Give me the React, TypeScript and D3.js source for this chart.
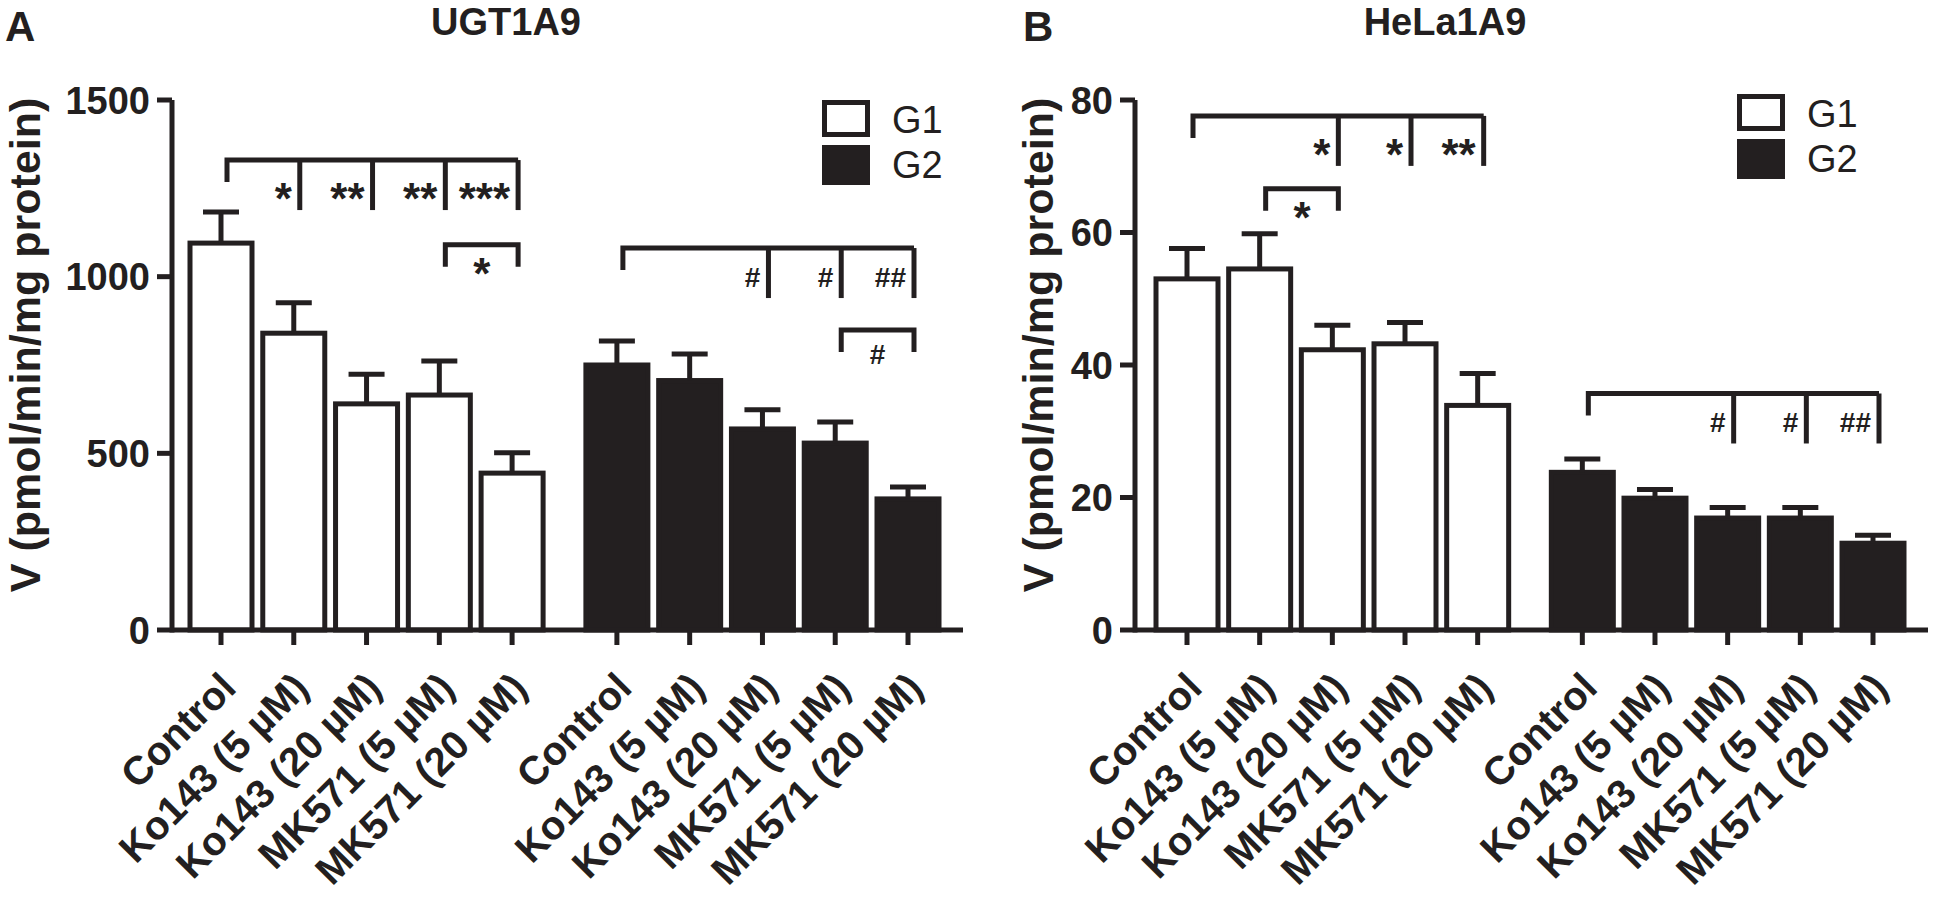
import { scaleLinear } from 'd3'

const categories = ['Control', 'Ko143 (5 µM)', 'Ko143 (20 µM)', 'MK571 (5 µM)', 'MK571 (20 µM)']
const seriesNames = ['G1', 'G2']

// panel A: UGT1A9
const ugtG1 = [1095, 840, 640, 665, 444]
const ugtG1Err = [88, 86, 84, 96, 58]
const ugtG2 = [750, 706, 569, 529, 371]
const ugtG2Err = [68, 75, 54, 60, 34]
const ugtTicks = [0, 500, 1000, 1500]

// panel B: HeLa1A9
const helaG1 = [53.0, 54.5, 42.3, 43.2, 33.9]
const helaG1Err = [4.6, 5.3, 3.7, 3.2, 4.8]
const helaG2 = [23.8, 19.9, 16.9, 16.9, 13.1]
const helaG2Err = [2.0, 1.3, 1.6, 1.6, 1.2]
const helaTicks = [0, 20, 40, 60, 80]

// significance brackets: group, reference bar, compared bars, labels, height in data units
const ugtMarks = [
  { group: 0, from: 0, to: [1, 2, 3, 4], labels: ['*', '**', '**', '***'], at: 1330 },
  { group: 0, from: 3, to: [4], labels: ['*'], at: 1090, small: true },
  { group: 1, from: 0, to: [2, 3, 4], labels: ['#', '#', '##'], at: 1081 },
  { group: 1, from: 3, to: [4], labels: ['#'], at: 849, small: true },
]
const helaMarks = [
  { group: 0, from: 0, to: [2, 3, 4], labels: ['*', '*', '**'], at: 77.6 },
  { group: 0, from: 1, to: [2], labels: ['*'], at: 66.6, small: true },
  { group: 1, from: 0, to: [2, 3, 4], labels: ['#', '#', '##'], at: 35.7 },
]

const INK = '#231f20'
const FONT = '"Liberation Sans", Arial, Helvetica, sans-serif'
const SW = 5
const Y0 = 630
const YTOP = 100
const GROUP_STEP = 5.44
const BAR_W = 62
const CAP = 18

type Mark = { group: number; from: number; to: number[]; labels: string[]; at: number; small?: boolean }

interface PanelProps {
  letter: string
  letterX: number
  title: string
  titleX: number
  axisX: number
  axisEnd: number
  firstX: number
  lastX: number
  yMax: number
  ticks: number[]
  g1: number[]
  g1Err: number[]
  g2: number[]
  g2Err: number[]
  marks: Mark[]
  legendX: number
  legendY: number
  yTitleX: number
}

function Panel(p: PanelProps) {
  const y = scaleLinear().domain([0, p.yMax]).range([Y0, YTOP])
  const x = scaleLinear().domain([0, 4 + GROUP_STEP]).range([p.firstX, p.lastX])
  const slot = (g: number, i: number) => x(g * GROUP_STEP + i)

  const series = [
    { mean: p.g1, err: p.g1Err, fill: '#fff' },
    { mean: p.g2, err: p.g2Err, fill: INK },
  ]

  return (
    <g fontFamily={FONT} fill={INK}>
      <text x={p.letterX} y={41} fontSize={42} fontWeight="bold">
        {p.letter}
      </text>
      <text x={p.titleX} y={35} fontSize={38} fontWeight="bold" textAnchor="middle">
        {p.title}
      </text>
      <text
        transform={`translate(${p.yTitleX},345) rotate(-90)`}
        fontSize={43}
        fontWeight="bold"
        textAnchor="middle"
        dy="0.35em"
      >
        V (pmol/min/mg protein)
      </text>

      {series.map((s, g) =>
        s.mean.map((v, i) => {
          const cx = slot(g, i)
          return (
            <g key={`bar-${g}-${i}`}>
              <rect
                x={cx - BAR_W / 2}
                y={y(v)}
                width={BAR_W}
                height={Y0 - y(v)}
                fill={s.fill}
                stroke={INK}
                strokeWidth={SW}
              />
              <line x1={cx} x2={cx} y1={y(v)} y2={y(v + s.err[i])} stroke={INK} strokeWidth={SW} />
              <line
                x1={cx - CAP}
                x2={cx + CAP}
                y1={y(v + s.err[i])}
                y2={y(v + s.err[i])}
                stroke={INK}
                strokeWidth={SW}
              />
            </g>
          )
        }),
      )}

      <line x1={p.axisX} x2={p.axisX} y1={YTOP} y2={Y0 + SW / 2} stroke={INK} strokeWidth={SW} />
      <line x1={p.axisX} x2={p.axisEnd} y1={Y0} y2={Y0} stroke={INK} strokeWidth={SW} />
      {p.ticks.map((t) => (
        <g key={`yt-${t}`}>
          <line x1={p.axisX - 15} x2={p.axisX} y1={y(t)} y2={y(t)} stroke={INK} strokeWidth={SW} />
          <text x={p.axisX - 22} y={y(t)} dy="0.36em" textAnchor="end" fontSize={38} fontWeight="bold">
            {t}
          </text>
        </g>
      ))}

      {seriesNames.map((_, g) =>
        categories.map((c, i) => {
          const cx = slot(g, i)
          return (
            <g key={`xt-${g}-${i}`}>
              <line x1={cx} x2={cx} y1={Y0} y2={Y0 + 15} stroke={INK} strokeWidth={SW} />
              <text
                transform={`translate(${cx + 17},690) rotate(-45)`}
                textAnchor="end"
                fontSize={40}
                fontWeight="bold"
              >
                {c}
              </text>
            </g>
          )
        }),
      )}

      {p.marks.map((m, k) => {
        const top = y(m.at)
        const left = slot(m.group, m.from) + 6
        const ends = m.to.map((i) => slot(m.group, i) + 6)
        const right = ends[ends.length - 1]
        const isHash = m.labels[0].startsWith('#')
        const fs = isHash ? 28 : 44
        if (m.small) {
          return (
            <g key={`mk-${k}`}>
              <path
                d={`M${left},${top + 22}V${top}H${right}V${top + 22}`}
                fill="none"
                stroke={INK}
                strokeWidth={SW}
              />
              <text
                x={(left + right) / 2}
                y={top + (isHash ? 34 : 44)}
                textAnchor="middle"
                fontSize={fs}
                fontWeight="bold"
              >
                {m.labels[0]}
              </text>
            </g>
          )
        }
        return (
          <g key={`mk-${k}`}>
            <path d={`M${left},${top + 22}V${top}H${right}`} fill="none" stroke={INK} strokeWidth={SW} />
            {ends.map((ex, j) => (
              <g key={`d-${j}`}>
                <line x1={ex} x2={ex} y1={top} y2={top + 50} stroke={INK} strokeWidth={SW} />
                <text
                  x={ex - 8}
                  y={top + (isHash ? 39 : 54)}
                  textAnchor="end"
                  fontSize={fs}
                  fontWeight="bold"
                >
                  {m.labels[j]}
                </text>
              </g>
            ))}
          </g>
        )
      })}

      {seriesNames.map((name, g) => (
        <g key={`lg-${name}`} transform={`translate(${p.legendX},${p.legendY + g * 45})`}>
          <rect
            x={SW / 2}
            y={SW / 2}
            width={43}
            height={g === 0 ? 32 : 35}
            fill={g === 0 ? '#fff' : INK}
            stroke={INK}
            strokeWidth={SW}
          />
          <text x={70} y={19} dy="0.36em" fontSize={38}>
            {name}
          </text>
        </g>
      ))}
    </g>
  )
}

export default function App() {
  return (
    <svg
      width={1936}
      height={901}
      style={{ position: 'absolute', left: 0, top: 0, background: '#fff' }}
    >
      <rect width={1936} height={901} fill="#fff" />
      <Panel
        letter="A"
        letterX={5}
        title="UGT1A9"
        titleX={506}
        axisX={172}
        axisEnd={963}
        firstX={221}
        lastX={908}
        yMax={1500}
        ticks={ugtTicks}
        g1={ugtG1}
        g1Err={ugtG1Err}
        g2={ugtG2}
        g2Err={ugtG2Err}
        marks={ugtMarks}
        legendX={822}
        legendY={100}
        yTitleX={25}
      />
      <Panel
        letter="B"
        letterX={1023}
        title="HeLa1A9"
        titleX={1445}
        axisX={1135}
        axisEnd={1928}
        firstX={1187}
        lastX={1873}
        yMax={80}
        ticks={helaTicks}
        g1={helaG1}
        g1Err={helaG1Err}
        g2={helaG2}
        g2Err={helaG2Err}
        marks={helaMarks}
        legendX={1737}
        legendY={94}
        yTitleX={1038}
      />
    </svg>
  )
}
